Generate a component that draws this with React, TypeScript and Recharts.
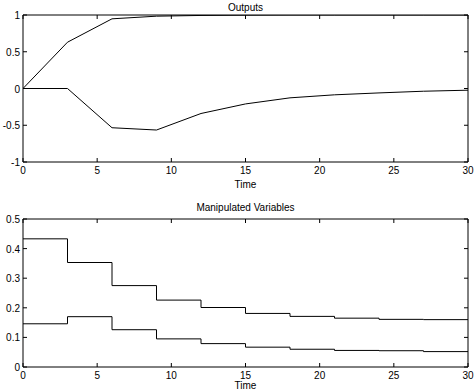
import React from "react";
import { LineChart, Line, XAxis, YAxis } from "recharts";

const time = [0, 3, 6, 9, 12, 15, 18, 21, 24, 27, 30];
const output1 = [0, 0.63, 0.948, 0.984, 0.994, 0.998, 1, 1, 1, 1, 1];
const output2 = [0, 0, -0.534, -0.565, -0.34, -0.21, -0.127, -0.086, -0.06, -0.037, -0.023];
const mv1 = [0.433, 0.353, 0.275, 0.226, 0.201, 0.181, 0.171, 0.165, 0.161, 0.16, 0.16];
const mv2 = [0.146, 0.17, 0.126, 0.095, 0.079, 0.067, 0.06, 0.056, 0.055, 0.052, 0.052];

const xTicks = [0, 5, 10, 15, 20, 25, 30];
const outTicks = [-1, -0.5, 0, 0.5, 1];
const mvTicks = [0, 0.1, 0.2, 0.3, 0.4, 0.5];

const outData = time.map((t, i) => ({ t, a: output1[i], b: output2[i] }));
const mvData = time.map((t, i) => ({ t, a: mv1[i], b: mv2[i] }));

const FONT = "'Liberation Sans', Arial, sans-serif";
const TL = 4;

const BottomTick = (p: any) => (
  <g>
    <line x1={p.x} y1={p.y} x2={p.x} y2={p.y - TL} stroke="#000" />
    <text x={p.x} y={p.y + 12} textAnchor="middle" fontSize={10} fontFamily={FONT} fill="#000">
      {p.payload.value}
    </text>
  </g>
);
const TopTick = (p: any) => <line x1={p.x} y1={p.y} x2={p.x} y2={p.y + TL} stroke="#000" />;
const LeftTick = (p: any) => (
  <g>
    <line x1={p.x} y1={p.y} x2={p.x + TL} y2={p.y} stroke="#000" />
    <text x={p.x - 3} y={p.y + 4} textAnchor="end" fontSize={10} fontFamily={FONT} fill="#000">
      {p.payload.value}
    </text>
  </g>
);
const RightTick = (p: any) => <line x1={p.x} y1={p.y} x2={p.x - TL} y2={p.y} stroke="#000" />;

function Panel({ data, yTicks, yDomain, height, top, bottom, labelOffset, step }: any) {
  const axisLine = { stroke: "#000" };
  const kind = step ? "stepAfter" : "linear";
  return (
    <LineChart width={474} height={height} data={data} margin={{ top: top - 1, right: 5, left: 0, bottom: 0 }}>
      <XAxis dataKey="t" type="number" domain={[0, 30]} ticks={xTicks} interval={0} allowDataOverflow
        tickSize={0} tickMargin={0} tickLine={false} axisLine={axisLine} tick={BottomTick} height={bottom}
        label={{ value: "Time", position: "insideBottom", offset: labelOffset, fontSize: 10, fontFamily: FONT, fill: "#000" }} />
      <XAxis xAxisId="top" orientation="top" type="number" dataKey="t" domain={[0, 30]} ticks={xTicks} interval={0}
        allowDataOverflow tickSize={0} tickMargin={0} tickLine={false} axisLine={axisLine} tick={TopTick} height={1} />
      <YAxis type="number" domain={yDomain} ticks={yTicks} interval={0} allowDataOverflow width={23}
        tickSize={0} tickMargin={0} tickLine={false} axisLine={axisLine} tick={LeftTick} />
      <YAxis yAxisId="right" orientation="right" type="number" domain={yDomain} ticks={yTicks} interval={0}
        allowDataOverflow width={1} tickSize={0} tickMargin={0} tickLine={false} axisLine={axisLine} tick={RightTick} />
      <Line type={kind} dataKey="a" stroke="#000" strokeWidth={1} dot={false} isAnimationActive={false} />
      <Line type={kind} dataKey="b" xAxisId="top" yAxisId="right" stroke="#000" strokeWidth={1} dot={false} isAnimationActive={false} />
    </LineChart>
  );
}

const titleStyle: React.CSSProperties = {
  position: "absolute", left: 23, width: 445, textAlign: "center",
  fontSize: 10, fontFamily: FONT, color: "#000", lineHeight: "12px",
};

export default function App() {
  return (
    <div style={{ position: "absolute", left: 0, top: 0, width: 474, height: 391, background: "#fff" }}>
      <div style={{ position: "absolute", left: 0, top: 0 }}>
        <Panel data={outData} yTicks={outTicks} yDomain={[-1, 1]} height={195} top={15} bottom={33} labelOffset={7} />
      </div>
      <div style={{ position: "absolute", left: 0, top: 195 }}>
        <Panel data={mvData} yTicks={mvTicks} yDomain={[0, 0.5]} height={196} top={24} bottom={24} labelOffset={2} step />
      </div>
      <div style={{ ...titleStyle, top: 2 }}>Outputs</div>
      <div style={{ ...titleStyle, top: 202 }}>Manipulated Variables</div>
    </div>
  );
}
